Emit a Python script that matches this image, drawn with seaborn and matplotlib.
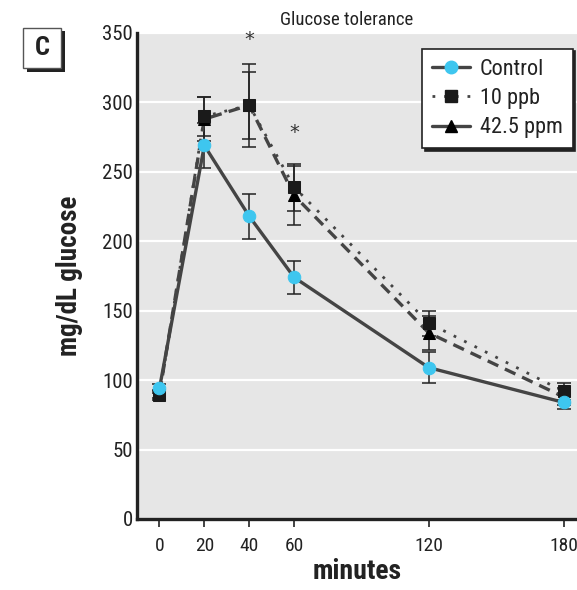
import matplotlib
matplotlib.use("Agg")
import matplotlib.pyplot as plt
from matplotlib.patches import Rectangle
from matplotlib.lines import Line2D
import seaborn as sns
import pandas as pd
import numpy as np

minutes = [0, 20, 40, 60, 120, 180]
control = [94, 269, 218, 174, 109, 84]
control_err = [3, 16, 16, 12, 11, 5]
ppb10 = [89, 290, 298, 239, 141, 92]
ppb10_err = [3, 14, 30, 17, 9, 6]
ppm425 = [90, 288, 298, 233, 134, 88]
ppm425_err = [3, 16, 24, 21, 12, 6]
series_names = ["Control", "10 ppb", "42.5 ppm"]
yticks = [0, 50, 100, 150, 200, 250, 300, 350]
star_pos = [(40, 345), (60, 278)]

sns.set_theme(style="darkgrid")
fams = ["Liberation Sans Narrow", "Roboto Condensed", "Liberation Sans", "DejaVu Sans"]
plt.rcParams["font.family"] = fams

fig = plt.figure(figsize=(5.77, 5.90), dpi=100)
ax = fig.add_axes([137/577, 1-519/590, 1-137/577, (519-33)/590])
ax.set_facecolor("#e6e6e6")

df = pd.DataFrame({
    "minutes": minutes * 3,
    "glucose": control + ppb10 + ppm425,
    "err": control_err + ppb10_err + ppm425_err,
    "group": sum([[n]*len(minutes) for n in series_names], []),
})

styles = {
    "Control": dict(ls="-", marker="o", mfc="#3ec6ef", lw=2.4, ms=9, zorder=5),
    "10 ppb": dict(ls=(0, (1, 3.2)), marker="s", mfc="#1a1a1a", lw=2.0, ms=8.5, zorder=4),
    "42.5 ppm": dict(ls=(0, (3.5, 2.2)), marker="^", mfc="#000000", lw=2.4, ms=8, zorder=3),
}

for name in series_names[::-1]:
    sub = df[df["group"] == name]
    st = styles[name]
    ax.errorbar(sub["minutes"], sub["glucose"], yerr=sub["err"], fmt="none",
                ecolor="#222222", elinewidth=1.1, capsize=5, capthick=1.1, zorder=2)
    sns.lineplot(data=sub, x="minutes", y="glucose", ax=ax, color="#444444",
                 linestyle=st["ls"], lw=st["lw"], marker=st["marker"],
                 markerfacecolor=st["mfc"], markeredgecolor=st["mfc"],
                 markersize=st["ms"], zorder=st["zorder"], legend=False)

for (sx, sy) in star_pos:
    ax.text(sx, sy, "*", ha="center", va="center", fontsize=14, color="#333333",
            family="DejaVu Sans")

ax.set_xlim(-10, 186)
ax.set_ylim(0, 350)
ax.set_xticks(minutes)
ax.set_yticks(yticks)
ax.grid(axis="y", color="white", lw=1.6)
ax.grid(axis="x", visible=False)
for s in ["top", "right"]:
    ax.spines[s].set_visible(False)
for s in ["left", "bottom"]:
    ax.spines[s].set_visible(True)
    ax.spines[s].set_color("#222222")
    ax.spines[s].set_linewidth(2.4)
ax.tick_params(axis="x", bottom=True, length=6, width=1.2, color="#222222",
               labelsize=14, labelcolor="#222222", pad=7)
ax.tick_params(axis="y", left=False, length=0, labelsize=15, labelcolor="#222222", pad=3)
ax.set_xlabel("minutes", fontsize=20, fontweight="bold", color="#222222", labelpad=2)
ax.set_ylabel("mg/dL glucose", fontsize=19.5, fontweight="bold", color="#222222", labelpad=14)

fig.text(347/577, 1-20/590, "Glucose tolerance", ha="center", va="center",
         fontsize=13.5, color="#222222")

handles = []
for name in series_names:
    st = styles[name]
    ls = st["ls"] if name == "10 ppb" else "-"
    handles.append(Line2D([], [], color="#444444", ls=ls, lw=st["lw"], marker=st["marker"],
                          mfc=st["mfc"], mec=st["mfc"], ms=st["ms"]))
leg = ax.legend(handles, series_names, loc="upper right", bbox_to_anchor=(0.99, 0.968),
                borderaxespad=0, fontsize=16, frameon=True, fancybox=False, handlelength=1.7,
                borderpad=0.45, labelspacing=0.38, handletextpad=0.45,
                shadow={"color": "#222222", "alpha": 1.0})
leg.get_frame().set_edgecolor("#222222")
leg.get_frame().set_facecolor("white")
leg.get_frame().set_linewidth(1.2)
leg.get_frame().set_alpha(1.0)
for t in leg.get_texts():
    t.set_color("#222222")

# panel label "C"
fig.patches.append(Rectangle((27/577, 1-72/590), 38/577, 41/590, transform=fig.transFigure,
                             facecolor="#222222", edgecolor="none", zorder=1))
fig.patches.append(Rectangle((23/577, 1-68/590), 38/577, 40/590, transform=fig.transFigure,
                             facecolor="white", edgecolor="#555555", lw=1.0, zorder=2))
fig.text(42/577, 1-48/590, "C", ha="center", va="center", fontsize=19,
         fontweight="bold", color="#222222", zorder=3)

fig.savefig("out.png", dpi=100)
